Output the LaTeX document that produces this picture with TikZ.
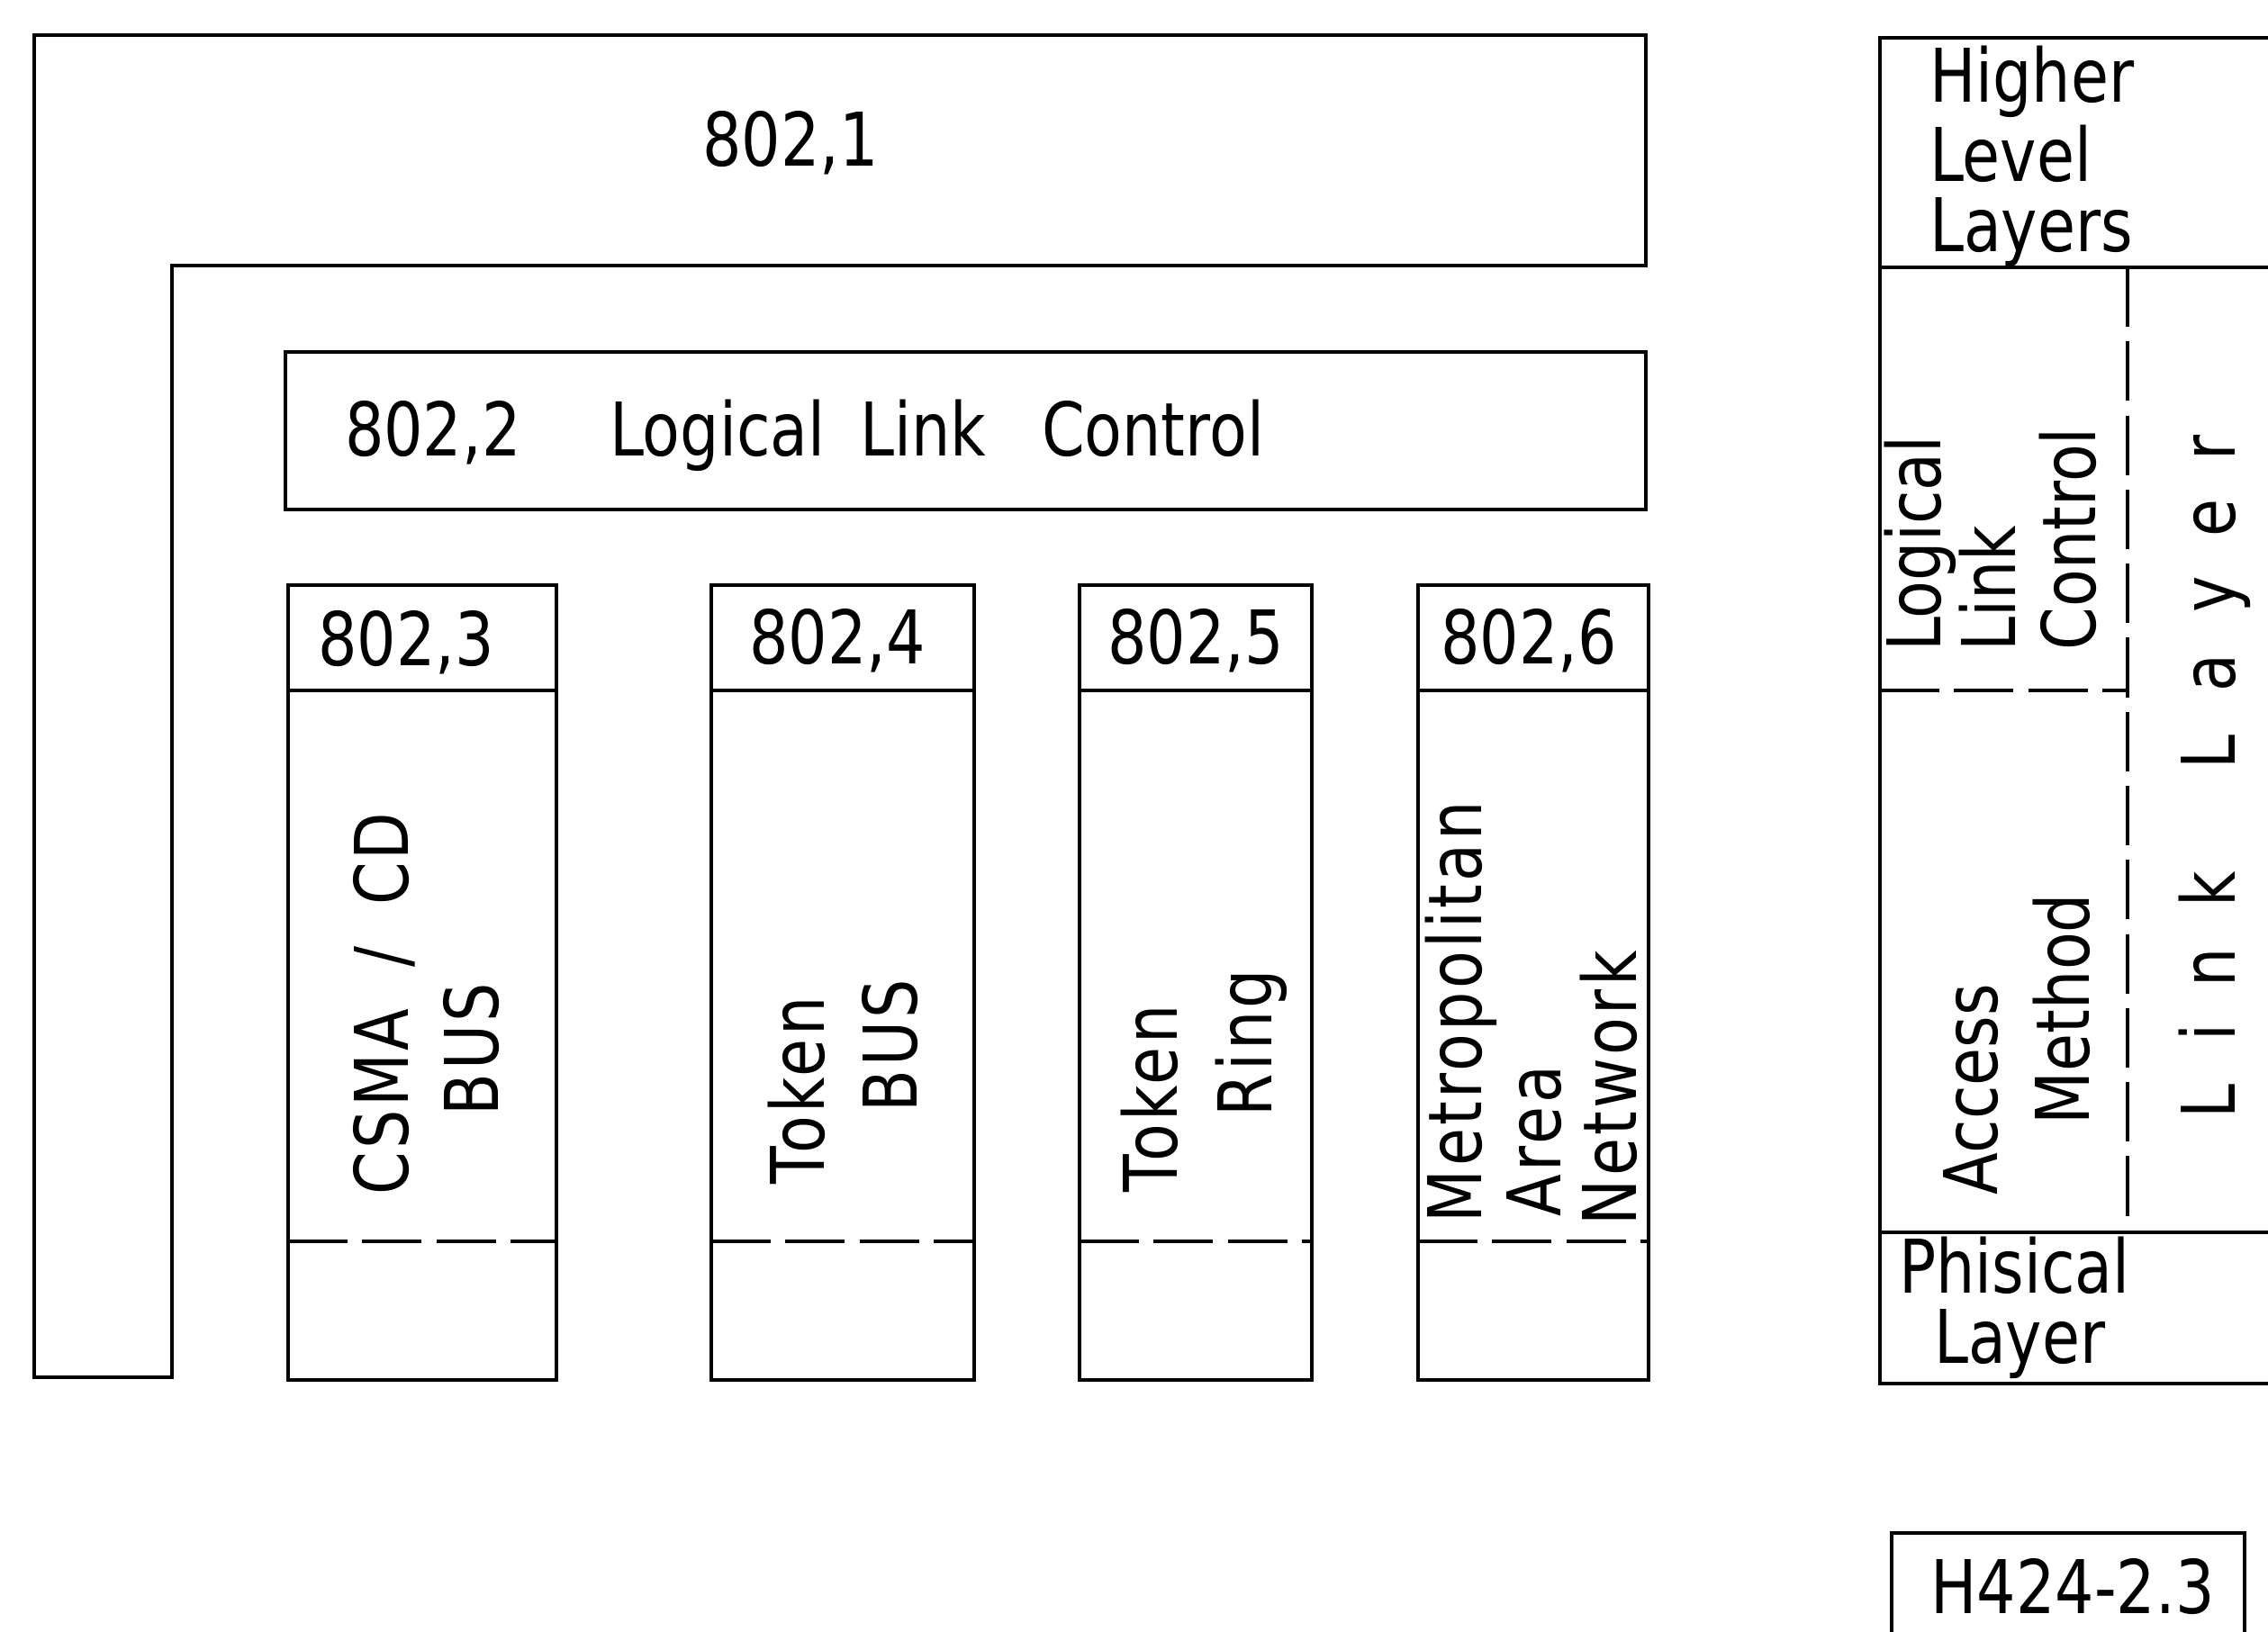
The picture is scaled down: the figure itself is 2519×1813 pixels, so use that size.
\documentclass[tikz,border=0pt]{standalone}
\usepackage{fontspec}
\setmainfont[FakeStretch=0.83]{DejaVu Sans}
\newfontfamily\spfont[FakeStretch=0.83,LetterSpace=4]{DejaVu Sans}
\newcommand\lbfont{\fontsize{23.4}{28}\selectfont}
\newcommand\splbfont{\spfont\fontsize{23.4}{28}\selectfont}
\tikzset{
  ln/.style={line width=1.1pt},
  dsh/.style={line width=1.1pt, dash pattern=on 18.8pt off 4.6pt},
  lbl/.style={inner sep=0pt, outer sep=0pt, font=\lbfont},
  vlbl/.style={lbl, rotate=90, anchor=base west},
  vclbl/.style={vlbl, font=\splbfont},
  hlbl/.style={lbl, anchor=base west},
  clbl/.style={lbl, anchor=base},
}
\begin{document}
\begin{tikzpicture}[x=0.01cm,y=-0.01cm]
\useasboundingbox (0,0) rectangle (2519,1813);
\fill[white] (0,0) rectangle (2519,1813);

% 802.1 L-shaped frame
\draw[ln] (38,39) -- (1828,39) -- (1828,295) -- (191,295) -- (191,1530) -- (38,1530) -- cycle;
\node[clbl] (t8021) at (878,185) {802,1};

% 802.2 box
\draw[ln] (317,391) rectangle (1828,566);
\node[hlbl] (t8022) at (383,507) {802,2};
\node[hlbl] (tlog) at (677,507) {Logical};
\node[hlbl] (tlink) at (955,507) {Link};
\node[hlbl] (tctrl) at (1157,507) {Control};

% columns
\foreach \l/\r in {320/618, 790/1082, 1199/1457, 1575/1831} {
  \draw[ln] (\l,650) rectangle (\r,1533);
  \draw[ln] (\l,767) -- (\r,767);
  \draw[dsh] (\l,1379) -- (\r,1379);
}
\node[clbl] (h3) at (451,739) {802,3};
\node[clbl] (h4) at (930,738) {802,4};
\node[clbl] (h5) at (1328,738) {802,5};
\node[clbl] (h6) at (1698,738) {802,6};

\node[vclbl] (c3a) at (453,1327) {CSMA\hspace{13pt}/\hspace{13pt}CD};
\node[vclbl] (c3b) at (553,1239) {BUS};
\node[vclbl] (c4a) at (915,1315) {Token};
\node[vclbl] (c4b) at (1018,1235) {BUS};
\node[vclbl] (c5a) at (1307,1324) {Token};
\node[vclbl] (c5b) at (1412,1240) {Ring};
\node[vclbl] (c6a) at (1645,1358) {Metropolitan};
\node[vclbl] (c6b) at (1733,1351) {Area};
\node[vclbl] (c6c) at (1817,1361) {Network};

% right panel
\draw[ln] (2519,42) -- (2088,42) -- (2088,1537) -- (2519,1537);
\draw[ln] (2088,297) -- (2519,297);
\draw[ln] (2088,1369) -- (2519,1369);
\draw[dsh] (2088,767) -- (2363,767);
\draw[dsh] (2363,297) -- (2363,1369);

\node[hlbl] (hl1) at (2143,114) {Higher};
\node[hlbl] (hl2) at (2143,202) {Level};
\node[hlbl] (hl3) at (2143,280) {Layers};

\node[vlbl] (r1) at (2155,724) {Logical};
\node[vlbl] (r2) at (2238,724) {Link};
\node[vlbl] (r3) at (2327,722) {Control};
\node[vlbl] (r4) at (2218,1327) {Access};
\node[vlbl] (r5) at (2320,1249) {Method};

\foreach \ch/\yy [count=\k] in {L/1223,i/1147,n/1075,k/988,L/835,a/748,y/660,e/575,r/497}
  \node[lbl, rotate=90, anchor=base] (ll\k) at (2482,\yy) {\ch};

\node[hlbl] (ph1) at (2109,1436) {Phisical};
\node[hlbl] (ph2) at (2148,1514) {Layer};

% figure number box
\draw[ln] (2101,1813) -- (2101,1703) -- (2493,1703) -- (2493,1813);
\node[clbl] (fig) at (2302,1792) {H424-2.3};
\end{tikzpicture}
\end{document}
